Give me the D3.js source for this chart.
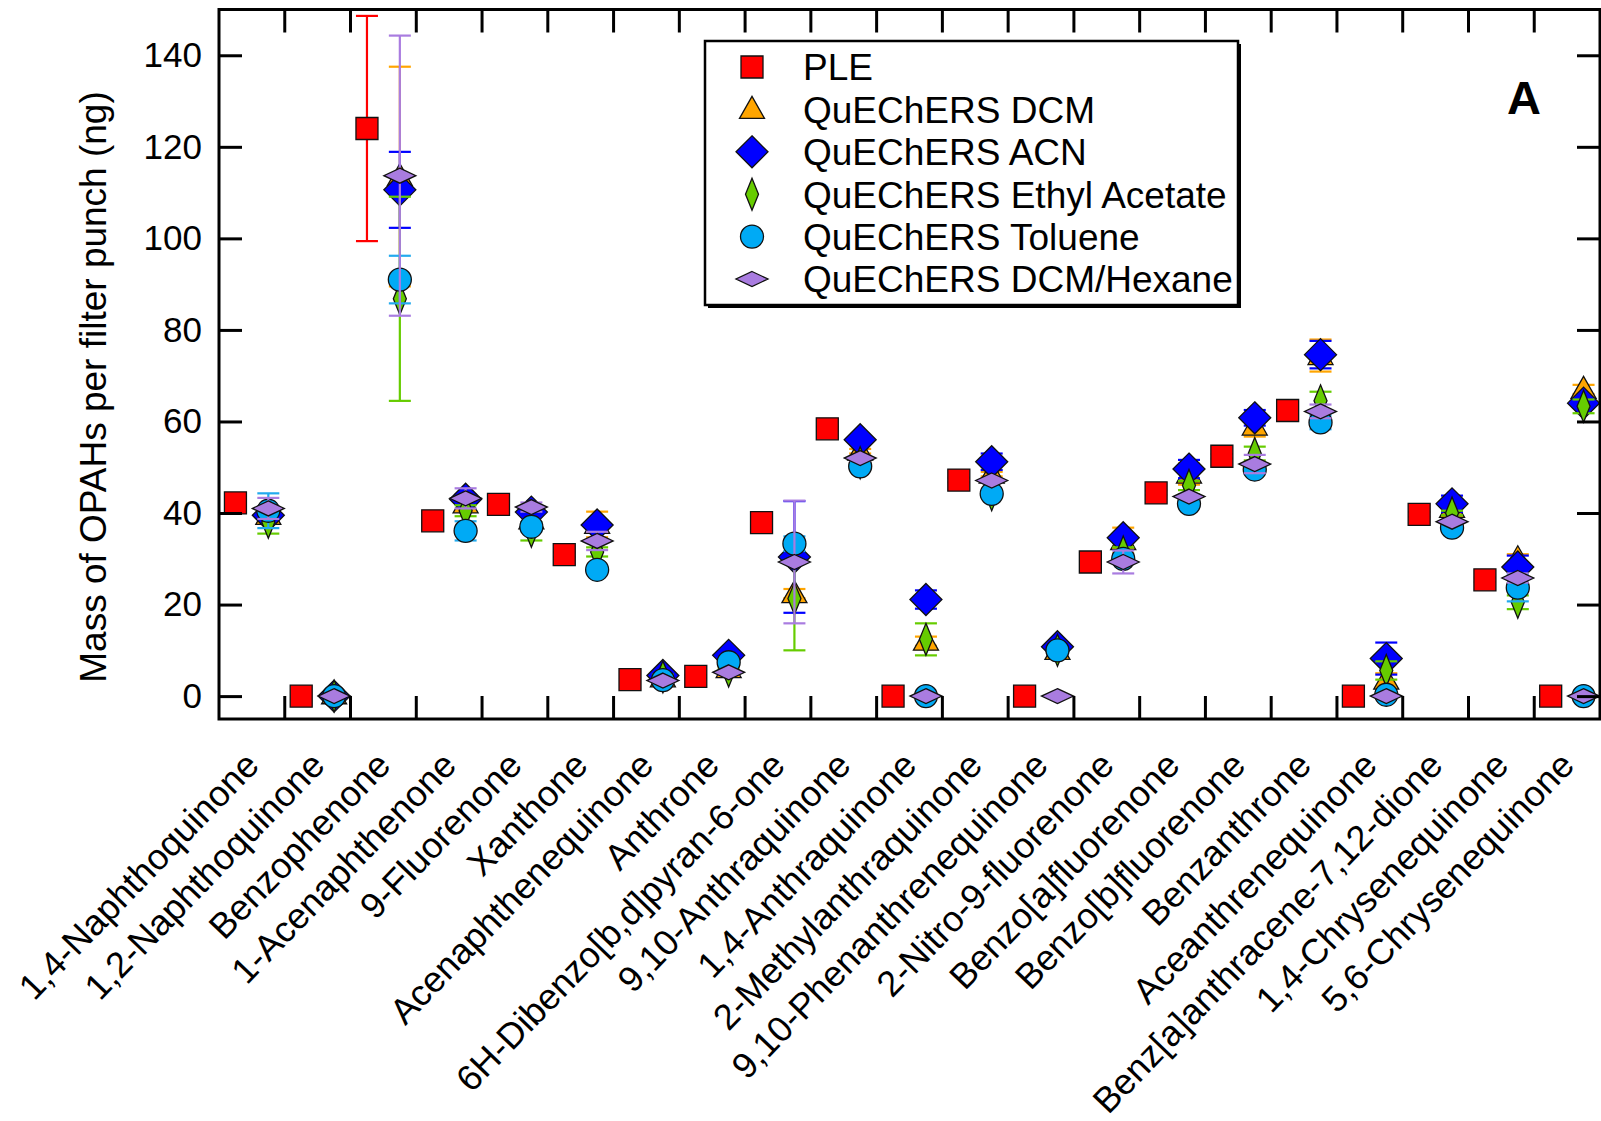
<!DOCTYPE html>
<html>
<head>
<meta charset="utf-8">
<script src="https://cdn.jsdelivr.net/npm/d3@7"></script>
<style>
  html, body { margin: 0; padding: 0; background: #fff; }
  svg { display: block; font-family: "Liberation Sans", Arial, sans-serif; }
</style>
</head>
<body>
<svg id="chart" width="1601" height="1121"></svg>
<script>
const categories = [
  "1,4-Naphthoquinone", "1,2-Naphthoquinone", "Benzophenone", "1-Acenaphthenone",
  "9-Fluorenone", "Xanthone", "Acenaphthenequinone", "Anthrone",
  "6H-Dibenzo[b,d]pyran-6-one", "9,10-Anthraquinone", "1,4-Anthraquinone",
  "2-Methylanthraquinone", "9,10-Phenanthrenequinone", "2-Nitro-9-fluorenone",
  "Benzo[a]fluorenone", "Benzo[b]fluorenone", "Benzanthrone", "Aceanthrenequinone",
  "Benz[a]anthracene-7,12-dione", "1,4-Chrysenequinone", "5,6-Chrysenequinone"
];
const seriesNames = ["PLE", "QuEChERS DCM", "QuEChERS ACN", "QuEChERS Ethyl Acetate", "QuEChERS Toluene", "QuEChERS DCM/Hexane"];

const ple        = [42.2, 0, 124, 38.3, 41.9, 30.9, 3.6, 4.3, 37.9, 58.4, 0, 47.2, 0, 29.3, 44.4, 52.4, 62.4, 0, 39.7, 25.4, 0];
const pleErr     = [0.5, 0, 24.6, 0.5, 0.5, 0.5, 0.3, 0.3, 0.5, 0.5, 0, 0.5, 0, 0.5, 0.5, 0.5, 1.3, 0, 0.5, 0.5, 0];
const dcm        = [39.5, 0.3, 113.5, 42, 38.5, 37.5, 4, 6, 22.4, 53.5, 12, 48.5, 10, 34, 48.5, 59, 74.4, 3.5, 41, 30, 67];
const dcmErr     = [1.5, 0, 24, 1.5, 1, 2.8, 0.5, 0.5, 1, 0.5, 1, 0.5, 0.5, 2.8, 2.3, 2.3, 3.5, 1.5, 0.5, 1, 1];
const acn        = [39.5, 0, 110.6, 43, 40.2, 37.4, 4.5, 8.9, 30.4, 56, 21.1, 51.2, 10.8, 34.6, 49.6, 60.8, 74.6, 8.2, 42, 28.2, 64];
const acnErr     = [1, 0, 8.3, 1, 0.5, 1, 0.5, 0.5, 12.2, 0.8, 2, 1.8, 0.5, 1, 2, 1.7, 3, 3.5, 1.8, 2.5, 1];
const ethylAc    = [38, 0, 86.8, 40.5, 36, 31.5, 4.2, 5.5, 21.3, 51, 12.4, 44, 10, 31.5, 46, 53, 64.5, 5.6, 40, 20.5, 63.3];
const ethylAcErr = [2.5, 0, 22.3, 1.2, 2, 1, 0.5, 0.5, 11.3, 0.5, 3.5, 0.5, 0.5, 1, 1, 1.5, 2, 2, 0.5, 1.5, 1.5];
const toluene    = [40.5, 0, 91, 36.1, 37, 27.6, 3.5, 7.4, 33.3, 50.2, 0, 44.2, 10, 30, 42, 49.5, 59.8, 0.3, 36.8, 23.7, 0];
const tolueneErr = [3.8, 0, 5.2, 2.1, 1, 0.5, 0.5, 0.5, 1.6, 0.5, 0, 0.5, 0.5, 1, 0.5, 1, 1.5, 0.3, 0.5, 3, 0];
const dcmHex     = [41, 0, 113.7, 43.2, 41.3, 33.9, 3.4, 5.2, 29.3, 52, 0, 47.1, 0, 29.3, 43.6, 50.7, 62.2, 0, 38.1, 25.8, 0];
const dcmHexErr  = [2.3, 0, 30.6, 2.2, 1, 2, 0.5, 0.5, 13.4, 0.5, 0, 0.5, 0, 2.5, 0.5, 2, 1.5, 0, 0.5, 1, 0];
const yTicks = [0, 20, 40, 60, 80, 100, 120, 140];

const series = [
  { name: seriesNames[0], values: ple,     errs: pleErr,     group: "PLE",      color: "#ff0000", err: "#ff0000", shape: "square" },
  { name: seriesNames[1], values: dcm,     errs: dcmErr,     group: "QuEChERS", color: "#ffa500", err: "#ffa500", shape: "triangle" },
  { name: seriesNames[2], values: acn,     errs: acnErr,     group: "QuEChERS", color: "#0000ff", err: "#0000ff", shape: "diamond" },
  { name: seriesNames[3], values: ethylAc, errs: ethylAcErr, group: "QuEChERS", color: "#66cc00", err: "#66cc00", shape: "tallDiamond" },
  { name: seriesNames[4], values: toluene, errs: tolueneErr, group: "QuEChERS", color: "#00aaf5", err: "#22aaee", shape: "circle" },
  { name: seriesNames[5], values: dcmHex,  errs: dcmHexErr,  group: "QuEChERS", color: "#a97ce0", err: "#a97ce0", shape: "flatDiamond" }
];

const svg = d3.select("#chart");
const L = 219, R = 1600, T = 9.5, B = 719;

const x = d3.scaleBand().domain(categories).range([L, R]).padding(0);
const xGroup = d3.scaleBand().domain(["PLE", "QuEChERS"]).range([0, x.bandwidth()]);
const y = d3.scaleLinear().domain([-5, 150]).range([B, T]);

function shapePath(shape) {
  switch (shape) {
    case "square": return "M-11,-11H11V11H-11Z";
    case "triangle": return "M0,-13L12.5,9H-12.5Z";
    case "diamond": return "M0,-16L16,0L0,16L-16,0Z";
    case "tallDiamond": return "M0,-16L6.5,0L0,16L-6.5,0Z";
    case "flatDiamond": return "M0,-7.5L16,0L0,7.5L-16,0Z";
    case "circle": return d3.symbol(d3.symbolCircle, Math.PI * 11.5 * 11.5)();
  }
}

// data layers
series.forEach(s => {
  const g = svg.append("g");
  const cx = (d, i) => x(categories[i]) + xGroup(s.group) + xGroup.bandwidth() / 2;
  const eb = g.append("g").selectAll("g")
    .data(s.values.map((v, i) => ({ v, e: s.errs[i], i })).filter(d => d.e > 0))
    .join("g")
    .attr("stroke", s.err).attr("stroke-width", 2.2);
  eb.append("line")
    .attr("x1", d => cx(d, d.i)).attr("x2", d => cx(d, d.i))
    .attr("y1", d => y(d.v + d.e)).attr("y2", d => y(d.v - d.e));
  [1, -1].forEach(sg => {
    eb.append("line")
      .attr("x1", d => cx(d, d.i) - 11).attr("x2", d => cx(d, d.i) + 11)
      .attr("y1", d => y(d.v + sg * d.e)).attr("y2", d => y(d.v + sg * d.e));
  });
  g.append("g").selectAll("path")
    .data(s.values)
    .join("path")
    .attr("d", shapePath(s.shape))
    .attr("transform", (v, i) => `translate(${cx(v, i)},${y(v)})`)
    .attr("fill", s.color)
    .attr("stroke", "#111")
    .attr("stroke-width", 1.3);
});

// axes
const axisColor = "#000";
const tickLen = 23;
const yAxisL = d3.axisLeft(y).tickValues(yTicks).tickSize(-tickLen).tickPadding(17);
const gL = svg.append("g").attr("transform", `translate(${L},0)`).call(yAxisL);
gL.selectAll(".tick line").attr("stroke", axisColor).attr("stroke-width", 3);
gL.selectAll(".tick text").attr("font-size", 35).attr("fill", "#000").attr("font-family", "Liberation Sans, Arial, sans-serif");
gL.select(".domain").remove();
const yAxisR = d3.axisRight(y).tickValues(yTicks).tickSize(-tickLen).tickFormat("");
const gR = svg.append("g").attr("transform", `translate(${R},0)`).call(yAxisR);
gR.selectAll(".tick line").attr("stroke", axisColor).attr("stroke-width", 3);
gR.select(".domain").remove();

// category boundary ticks (bottom & top)
const boundaries = categories.slice(1);
const gB = svg.append("g");
gB.selectAll("line.b").data(boundaries).join("line")
  .attr("x1", d => x(d)).attr("x2", d => x(d))
  .attr("y1", B).attr("y2", B - tickLen)
  .attr("stroke", axisColor).attr("stroke-width", 3);
gB.selectAll("line.t").data(boundaries).join("line")
  .attr("x1", d => x(d)).attr("x2", d => x(d))
  .attr("y1", T).attr("y2", T + tickLen)
  .attr("stroke", axisColor).attr("stroke-width", 3);

// frame
svg.append("rect")
  .attr("x", L).attr("y", T).attr("width", R - L).attr("height", B - T)
  .attr("fill", "none").attr("stroke", axisColor).attr("stroke-width", 3);

// category labels
svg.append("g").selectAll("text").data(categories).join("text")
  .attr("transform", d => `translate(${x(d) + x.bandwidth() / 2 + 9},767) rotate(-46)`)
  .attr("text-anchor", "end")
  .attr("font-size", 36)
  .attr("fill", "#000")
  .text(d => d);

// y label
svg.append("text")
  .attr("transform", "translate(106,387) rotate(-90)")
  .attr("text-anchor", "middle")
  .attr("font-size", 37)
  .attr("fill", "#000")
  .text("Mass of OPAHs per filter punch (ng)");

// panel letter
svg.append("text")
  .attr("x", 1524).attr("y", 114)
  .attr("text-anchor", "middle")
  .attr("font-size", 47).attr("font-weight", "bold")
  .attr("fill", "#000")
  .text("A");

// legend
const lg = svg.append("g");
const lx = 705, ly = 41, lw = 533, lh = 264;
lg.append("rect").attr("x", lx + 3).attr("y", ly + 3).attr("width", lw).attr("height", lh).attr("fill", "#000");
lg.append("rect").attr("x", lx).attr("y", ly).attr("width", lw).attr("height", lh)
  .attr("fill", "#fff").attr("stroke", "#000").attr("stroke-width", 2.5);
const legendScale = d3.scalePoint().domain(seriesNames).range([67, 279]);
const items = lg.selectAll("g.item").data(series).join("g")
  .attr("transform", d => `translate(0,${legendScale(d.name)})`);
items.append("path")
  .attr("d", d => shapePath(d.shape))
  .attr("transform", "translate(752,0)")
  .attr("fill", d => d.color).attr("stroke", "#111").attr("stroke-width", 1.3);
items.append("text")
  .attr("x", 803).attr("y", 0).attr("dy", "0.36em")
  .attr("font-size", 37).attr("fill", "#000")
  .text(d => d.name);
</script>
</body>
</html>
